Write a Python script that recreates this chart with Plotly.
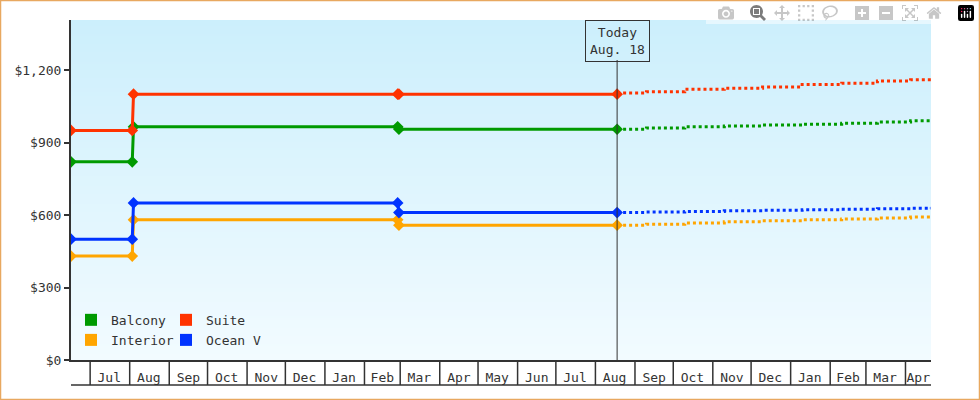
import plotly.graph_objects as go
from datetime import date

hist_dates = ["2024-06-16", "2024-08-03", "2024-08-04", "2025-02-27", "2025-02-28", "2025-08-18"]
balcony = [820, 820, 965, 965, 955, 955]
suite = [950, 950, 1100, 1100, 1100, 1100]
ocean = [500, 500, 650, 650, 610, 610]
interior = [430, 430, 580, 580, 558, 558]

fc_dates = ["2025-08-18", "2025-09-10", "2025-10-10", "2025-11-10", "2025-12-10",
            "2026-01-10", "2026-02-10", "2026-03-10", "2026-04-05", "2026-04-21"]
suite_fc = [1105, 1110, 1120, 1125, 1130, 1140, 1145, 1155, 1160, 1165]
balcony_fc = [955, 960, 965, 968, 972, 976, 980, 985, 990, 995]
ocean_fc = [610, 612, 615, 618, 620, 622, 624, 626, 628, 630]
interior_fc = [558, 562, 567, 572, 576, 580, 584, 588, 592, 596]

month_ticks = ["2024-07-16", "2024-08-16", "2024-09-16", "2024-10-16", "2024-11-16", "2024-12-16",
               "2025-01-16", "2025-02-15", "2025-03-16", "2025-04-16", "2025-05-16", "2025-06-16",
               "2025-07-16", "2025-08-16", "2025-09-16", "2025-10-16", "2025-11-16", "2025-12-16",
               "2026-01-16", "2026-02-15", "2026-03-16", "2026-04-11"]
month_labels = ["Jul", "Aug", "Sep", "Oct", "Nov", "Dec", "Jan", "Feb", "Mar", "Apr", "May", "Jun",
                "Jul", "Aug", "Sep", "Oct", "Nov", "Dec", "Jan", "Feb", "Mar", "Apr"]

colors = {"Balcony": "#009a00", "Suite": "#ff3300", "Interior": "#ffa500", "Ocean View": "#0033ff"}
series = [("Balcony", balcony, balcony_fc, "legend"), ("Suite", suite, suite_fc, "legend"),
          ("Interior", interior, interior_fc, "legend2"), ("Ocean View", ocean, ocean_fc, "legend2")]

FONT = "DejaVu Sans Mono"
fig = go.Figure()
for name, h, f, lg in series:
    c = colors[name]
    fig.add_trace(go.Scatter(x=hist_dates, y=h, mode="lines+markers", line=dict(color=c, width=3),
                             marker=dict(symbol="diamond", size=9, color=c), showlegend=False, hoverinfo="skip"))
    fig.add_trace(go.Scatter(x=fc_dates, y=f, mode="lines", line=dict(color=c, width=3, dash="dot", shape="hv"),
                             showlegend=False, hoverinfo="skip"))
    fig.add_trace(go.Scatter(x=[None], y=[None], mode="markers", name=name, legend=lg,
                             marker=dict(symbol="square", size=12, color=c)))

shapes = []
top = (204, 239, 252); bot = (242, 251, 255)
N = 170
for i in range(N):
    t = i / (N - 1)
    col = tuple(round(top[k] + (bot[k] - top[k]) * t) for k in range(3))
    shapes.append(dict(type="rect", xref="x domain", yref="y domain", x0=0, x1=1,
                       y0=1 - (i + 1) / N, y1=1 - i / N, fillcolor="rgb(%d,%d,%d)" % col,
                       line=dict(width=0), layer="below"))
lab_h = 25 / 340
d = date(2024, 7, 1)
while d <= date(2026, 4, 1):
    shapes.append(dict(type="line", xref="x", yref="paper", x0=d.isoformat(), x1=d.isoformat(),
                       y0=0, y1=-lab_h, line=dict(color="#333", width=1.5)))
    d = date(d.year + (d.month // 12), d.month % 12 + 1, 1)
shapes.append(dict(type="line", xref="paper", yref="paper", x0=0, x1=1, y0=-lab_h, y1=-lab_h,
                   line=dict(color="#333", width=1.5)))
shapes.append(dict(type="line", xref="x", yref="paper", x0="2025-08-18", x1="2025-08-18",
                   y0=0, y1=(360 - 60) / 340, line=dict(color="#333", width=1)))
shapes.append(dict(type="rect", xref="paper", yref="paper", x0=-70.5 / 860, x1=908.5 / 860,
                   y0=-39.5 / 340, y1=359.5 / 340, line=dict(color="#e8a860", width=1.5)))

fig.update_layout(
    width=980, height=400, margin=dict(l=71, r=49, t=20, b=40),
    paper_bgcolor="white", plot_bgcolor="rgba(0,0,0,0)",
    font=dict(family=FONT, size=13, color="#333"),
    shapes=shapes,
    xaxis=dict(type="date", range=["2024-06-16", "2026-04-21"], tickvals=month_ticks, ticktext=month_labels,
               showgrid=False, ticks="outside", ticklen=5, tickcolor="rgba(0,0,0,0)",
               showline=True, linecolor="#333", linewidth=1.5, zeroline=False),
    yaxis=dict(range=[0, 1407], tickvals=[0, 300, 600, 900, 1200], tickformat="$,", showgrid=False,
               ticks="outside", ticklen=5, tickwidth=2, tickcolor="#333", showline=True,
               linecolor="#333", linewidth=2, zeroline=False),
    legend=dict(orientation="h", x=0.0, y=0.118, xanchor="left", yanchor="middle",
                bgcolor="rgba(0,0,0,0)", entrywidth=50, tracegroupgap=0, font=dict(size=13), itemwidth=30),
    legend2=dict(orientation="h", x=0.0, y=0.059, xanchor="left", yanchor="middle",
                 bgcolor="rgba(0,0,0,0)", entrywidth=50, tracegroupgap=0, font=dict(size=13), itemwidth=30),
    annotations=[dict(x="2025-08-18", xref="x", y=1, yref="paper", yanchor="top",
                      text="Today<br>Aug. 18", showarrow=False, bordercolor="#333", borderwidth=1,
                      borderpad=4, bgcolor="rgba(0,0,0,0)", font=dict(size=13))],
)
fig.write_html("out.html", post_script="document.body.style.margin='0';")
